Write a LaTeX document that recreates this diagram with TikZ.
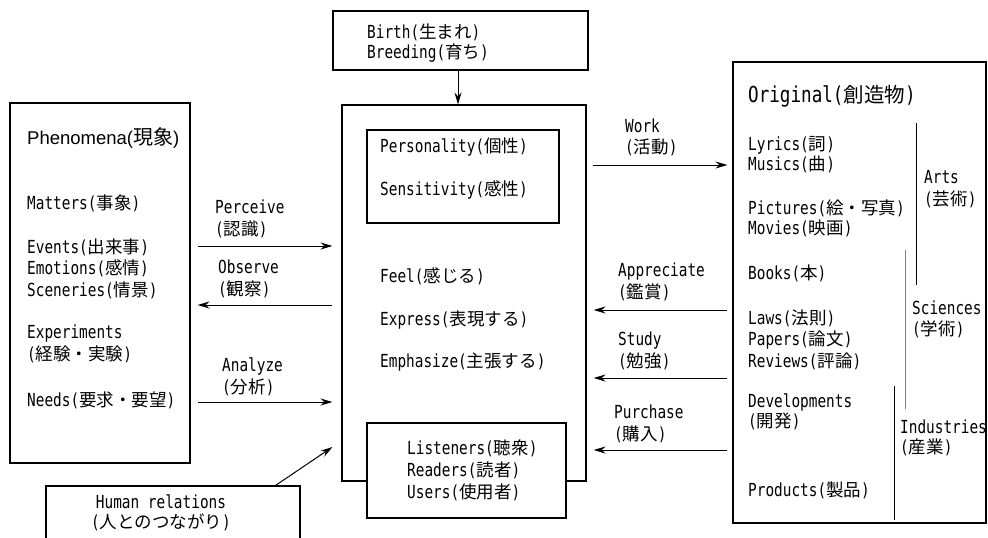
\documentclass[tikz,border=0pt]{standalone}
\usepackage{fontspec}
\setmainfont{DejaVu Sans Mono}[FakeStretch=0.8]
\newfontfamily\jpf{Noto Sans CJK JP}
\newfontfamily\phf{Liberation Sans}
\usetikzlibrary{arrows.meta,calc}
\newcommand\jptext[1]{{\jpf\fontsize{17.5}{21.5}\selectfont #1}}
\begin{document}
\begin{tikzpicture}[x=1pt,y=-1pt,
  box/.style={draw, line width=1.1pt, inner sep=0pt},
  txt/.style={inner sep=0pt, anchor=west, align=left, font=\fontsize{18}{#1}\selectfont},
  txt/.default=21.5,
  arr/.style={-{Stealth[length=12pt,width=7pt]}, line width=1pt},
  sep/.style={line width=1pt}
  ]
\useasboundingbox (0,0) rectangle (988,538);
\clip (0,0) rectangle (988,538);

% boxes
\node[box, minimum width=180pt, minimum height=360pt] (phen) at (100,283) {};
\node[box, minimum width=255pt, minimum height=59pt] (birth) at (460.5,40.5) {};
\node[box, minimum width=244pt, minimum height=376pt] (ctr) at (464,293) {};
\node[box, minimum width=192pt, minimum height=93pt] (pers) at (463,176.5) {};
\node[box, fill=white, minimum width=199pt, minimum height=95pt] (lis) at (466.5,470.5) {};
\node[box, minimum width=253pt, minimum height=461pt] (orig) at (859.5,292.5) {};
\node[box, minimum width=254pt, minimum height=80pt] (hum) at (173,526) {};

% left box texts
\node[txt] (phtitle) at (27,138) {{\phf\fontsize{18.5}{21}\selectfont Phenomena(}{\jpf\fontsize{20}{21}\selectfont 現象}{\phf\fontsize{18.5}{21}\selectfont )}};
\node[txt] (matters) at (27,203) {Matters(\jptext{事象})};
\node[txt] (events) at (27,268.5) {Events(\jptext{出来事})\\Emotions(\jptext{感情})\\Sceneries(\jptext{情景})};
\node[txt] (exper) at (27,344) {Experiments\\(\jptext{経験・実験})};
\node[txt] (needs) at (27,400) {Needs(\jptext{要求・要望})};

% left arrows and labels
\draw[arr] ($(phen.east|-0,246)+(7,0)$) -- ($(ctr.west|-0,246)+(-9,0)$);
\draw[arr] ($(ctr.west|-0,305)+(-9,0)$) -- ($(phen.east|-0,305)+(7,0)$);
\draw[arr] ($(phen.east|-0,402)+(7,0)$) -- ($(ctr.west|-0,402)+(-9,0)$);
\node[txt] (perc) at (215,219) {Perceive\\(\jptext{認識})};
\node[txt] (obs) at (218,279) {Observe\\(\jptext{観察})};
\node[txt] (ana) at (222,377) {Analyze\\(\jptext{分析})};

% birth
\node[txt=20] (birtht) at (367,43) {Birth(\jptext{生まれ})\\Breeding(\jptext{育ち})};
\draw[arr] ($(birth.south)+(-2.5,0)$) -- ($(birth.south|-ctr.north)+(-2.5,0)$);

% center texts
\node[txt] (persT) at (380,147) {Personality(\jptext{個性})};
\node[txt] (sensT) at (380,190) {Sensitivity(\jptext{感性})};
\node[txt] (feel) at (380,276) {Feel(\jptext{感じる})};
\node[txt] (expr) at (380,320) {Express(\jptext{表現する})};
\node[txt] (emph) at (380,362) {Emphasize(\jptext{主張する})};
\node[txt=22] (lisT) at (407,470) {Listeners(\jptext{聴衆})\\Readers(\jptext{読者})\\Users(\jptext{使用者})};

% human relations
\node[txt=20, anchor=center, align=center] (humT) at (161,513) {Human relations\\(\jptext{人とのつながり})};
\draw[arr] ($(hum.north east)+(-25,0)$) -- ($(ctr.west|-0,447)+(-9,0)$);

% right arrows and labels
\draw[arr] ($(ctr.east|-0,165)+(6,0)$) -- ($(orig.west|-0,165)+(-5,0)$);
\draw[arr] ($(orig.west|-0,310)+(-5,0)$) -- ($(ctr.east|-0,310)+(7,0)$);
\draw[arr] ($(orig.west|-0,378)+(-5,0)$) -- ($(ctr.east|-0,378)+(7,0)$);
\draw[arr] ($(orig.west|-0,450)+(-5,0)$) -- ($(ctr.east|-0,450)+(7,0)$);
\node[txt] (work) at (625,137.5) {Work\\(\jptext{活動})};
\node[txt] (appr) at (618,282) {Appreciate\\(\jptext{鑑賞})};
\node[txt] (study) at (618,351) {Study\\(\jptext{勉強})};
\node[txt] (purch) at (614,424) {Purchase\\(\jptext{購入})};

% right box texts
\node[txt] (origT) at (748,96) {{\fontsize{22}{24}\selectfont Original(}{\jpf\fontsize{20.5}{24}\selectfont 創造物}{\fontsize{22}{24}\selectfont )}};
\node[txt=20] (lyr) at (748,155) {Lyrics(\jptext{詞})\\Musics(\jptext{曲})};
\node[txt=20] (pic) at (748,218) {Pictures(\jptext{絵・写真})\\Movies(\jptext{映画})};
\node[txt] (books) at (748,273) {Books(\jptext{本})};
\node[txt] (laws) at (748,339.5) {Laws(\jptext{法則})\\Papers(\jptext{論文})\\Reviews(\jptext{評論})};
\node[txt=20] (dev) at (748,412) {Developments\\(\jptext{開発})};
\node[txt] (prod) at (748,490) {Products(\jptext{製品})};

% category separators and labels
\draw[sep] (916,123) -- (916,285);
\draw[sep, gray] (905,250) -- (905,409);
\draw[sep] (894,386) -- (894,520);
\node[txt] (arts) at (924,189) {Arts\\(\jptext{芸術})};
\node[txt] (sci) at (912,319.5) {Sciences\\(\jptext{学術})};
\node[txt=20] (ind) at (900,438) {Industries\\(\jptext{産業})};
\end{tikzpicture}
\end{document}
